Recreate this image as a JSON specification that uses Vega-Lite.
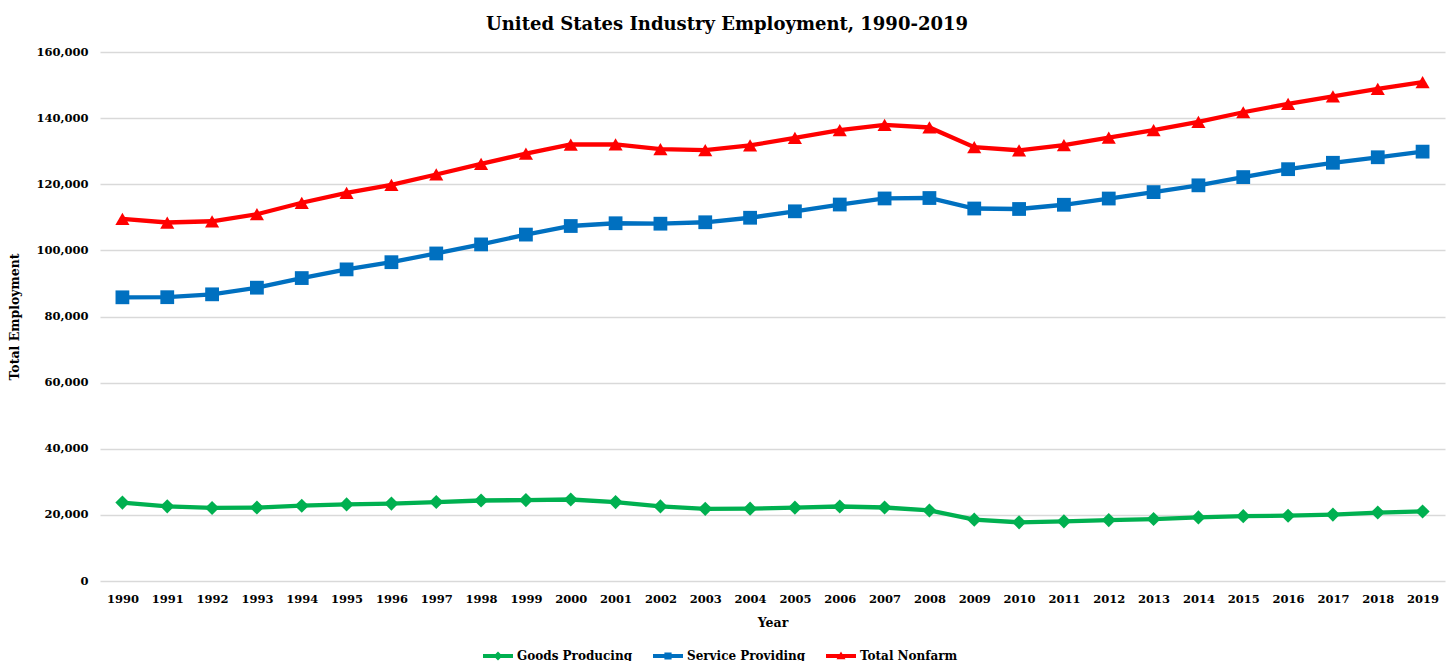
{
  "$schema": "https://vega.github.io/schema/vega-lite/v6.json",
  "autosize": {"type": "none"},
  "width": 1345,
  "height": 529,
  "padding": {"left": 100, "top": 52, "right": 10, "bottom": 80},
  "background": "white",
  "title": {
    "text": "United States Industry Employment, 1990-2019",
    "font": "DejaVu Serif",
    "fontSize": 18,
    "fontWeight": "bold",
    "color": "#000000",
    "frame": "bounds",
    "anchor": "middle",
    "offset": 12
  },
  "config": {
    "view": {"stroke": null},
    "axis": {
      "labelFont": "DejaVu Serif",
      "labelFontWeight": "bold",
      "labelFontSize": 11.5,
      "labelColor": "#000000",
      "titleFont": "DejaVu Serif",
      "titleFontWeight": "bold",
      "titleFontSize": 12.5,
      "titleColor": "#000000",
      "gridColor": "#D9D9D9",
      "gridWidth": 1.3,
      "domain": false,
      "ticks": false
    },
    "legend": {
      "labelFont": "DejaVu Serif",
      "labelFontWeight": "bold",
      "labelFontSize": 12,
      "labelColor": "#000000"
    }
  },
  "data": {
    "values": [
      {"year": "1990", "series": "Total Nonfarm", "value": 109527},
      {"year": "1991", "series": "Total Nonfarm", "value": 108427},
      {"year": "1992", "series": "Total Nonfarm", "value": 108802},
      {"year": "1993", "series": "Total Nonfarm", "value": 110935},
      {"year": "1994", "series": "Total Nonfarm", "value": 114398},
      {"year": "1995", "series": "Total Nonfarm", "value": 117407},
      {"year": "1996", "series": "Total Nonfarm", "value": 119836},
      {"year": "1997", "series": "Total Nonfarm", "value": 122951},
      {"year": "1998", "series": "Total Nonfarm", "value": 126157},
      {"year": "1999", "series": "Total Nonfarm", "value": 129240},
      {"year": "2000", "series": "Total Nonfarm", "value": 132019},
      {"year": "2001", "series": "Total Nonfarm", "value": 132074},
      {"year": "2002", "series": "Total Nonfarm", "value": 130628},
      {"year": "2003", "series": "Total Nonfarm", "value": 130318},
      {"year": "2004", "series": "Total Nonfarm", "value": 131749},
      {"year": "2005", "series": "Total Nonfarm", "value": 134005},
      {"year": "2006", "series": "Total Nonfarm", "value": 136398},
      {"year": "2007", "series": "Total Nonfarm", "value": 137936},
      {"year": "2008", "series": "Total Nonfarm", "value": 137170},
      {"year": "2009", "series": "Total Nonfarm", "value": 131220},
      {"year": "2010", "series": "Total Nonfarm", "value": 130269},
      {"year": "2011", "series": "Total Nonfarm", "value": 131842},
      {"year": "2012", "series": "Total Nonfarm", "value": 134101},
      {"year": "2013", "series": "Total Nonfarm", "value": 136364},
      {"year": "2014", "series": "Total Nonfarm", "value": 138896},
      {"year": "2015", "series": "Total Nonfarm", "value": 141777},
      {"year": "2016", "series": "Total Nonfarm", "value": 144309},
      {"year": "2017", "series": "Total Nonfarm", "value": 146578},
      {"year": "2018", "series": "Total Nonfarm", "value": 148866},
      {"year": "2019", "series": "Total Nonfarm", "value": 150904},
      {"year": "1990", "series": "Goods Producing", "value": 23723},
      {"year": "1991", "series": "Goods Producing", "value": 22588},
      {"year": "1992", "series": "Goods Producing", "value": 22095},
      {"year": "1993", "series": "Goods Producing", "value": 22219},
      {"year": "1994", "series": "Goods Producing", "value": 22774},
      {"year": "1995", "series": "Goods Producing", "value": 23156},
      {"year": "1996", "series": "Goods Producing", "value": 23409},
      {"year": "1997", "series": "Goods Producing", "value": 23886},
      {"year": "1998", "series": "Goods Producing", "value": 24354},
      {"year": "1999", "series": "Goods Producing", "value": 24465},
      {"year": "2000", "series": "Goods Producing", "value": 24649},
      {"year": "2001", "series": "Goods Producing", "value": 23873},
      {"year": "2002", "series": "Goods Producing", "value": 22557},
      {"year": "2003", "series": "Goods Producing", "value": 21816},
      {"year": "2004", "series": "Goods Producing", "value": 21882},
      {"year": "2005", "series": "Goods Producing", "value": 22190},
      {"year": "2006", "series": "Goods Producing", "value": 22530},
      {"year": "2007", "series": "Goods Producing", "value": 22233},
      {"year": "2008", "series": "Goods Producing", "value": 21335},
      {"year": "2009", "series": "Goods Producing", "value": 18558},
      {"year": "2010", "series": "Goods Producing", "value": 17751},
      {"year": "2011", "series": "Goods Producing", "value": 18047},
      {"year": "2012", "series": "Goods Producing", "value": 18420},
      {"year": "2013", "series": "Goods Producing", "value": 18738},
      {"year": "2014", "series": "Goods Producing", "value": 19226},
      {"year": "2015", "series": "Goods Producing", "value": 19610},
      {"year": "2016", "series": "Goods Producing", "value": 19750},
      {"year": "2017", "series": "Goods Producing", "value": 20084},
      {"year": "2018", "series": "Goods Producing", "value": 20704},
      {"year": "2019", "series": "Goods Producing", "value": 21037},
      {"year": "1990", "series": "Service Providing", "value": 85804},
      {"year": "1991", "series": "Service Providing", "value": 85839},
      {"year": "1992", "series": "Service Providing", "value": 86707},
      {"year": "1993", "series": "Service Providing", "value": 88716},
      {"year": "1994", "series": "Service Providing", "value": 91624},
      {"year": "1995", "series": "Service Providing", "value": 94251},
      {"year": "1996", "series": "Service Providing", "value": 96427},
      {"year": "1997", "series": "Service Providing", "value": 99065},
      {"year": "1998", "series": "Service Providing", "value": 101803},
      {"year": "1999", "series": "Service Providing", "value": 104775},
      {"year": "2000", "series": "Service Providing", "value": 107370},
      {"year": "2001", "series": "Service Providing", "value": 108201},
      {"year": "2002", "series": "Service Providing", "value": 108071},
      {"year": "2003", "series": "Service Providing", "value": 108502},
      {"year": "2004", "series": "Service Providing", "value": 109867},
      {"year": "2005", "series": "Service Providing", "value": 111815},
      {"year": "2006", "series": "Service Providing", "value": 113868},
      {"year": "2007", "series": "Service Providing", "value": 115703},
      {"year": "2008", "series": "Service Providing", "value": 115835},
      {"year": "2009", "series": "Service Providing", "value": 112662},
      {"year": "2010", "series": "Service Providing", "value": 112518},
      {"year": "2011", "series": "Service Providing", "value": 113795},
      {"year": "2012", "series": "Service Providing", "value": 115681},
      {"year": "2013", "series": "Service Providing", "value": 117626},
      {"year": "2014", "series": "Service Providing", "value": 119670},
      {"year": "2015", "series": "Service Providing", "value": 122167},
      {"year": "2016", "series": "Service Providing", "value": 124559},
      {"year": "2017", "series": "Service Providing", "value": 126494},
      {"year": "2018", "series": "Service Providing", "value": 128162},
      {"year": "2019", "series": "Service Providing", "value": 129867}
    ]
  },
  "encoding": {
    "x": {
      "field": "year",
      "type": "ordinal",
      "scale": {"type": "point", "padding": 0.5},
      "axis": {"title": "Year", "labelAngle": 0, "labelPadding": 12, "grid": false, "titlePadding": 12}
    },
    "y": {
      "field": "value",
      "type": "quantitative",
      "scale": {"domain": [0, 160000], "nice": false},
      "axis": {"title": "Total Employment", "values": [0, 20000, 40000, 60000, 80000, 100000, 120000, 140000, 160000], "format": ",d", "labelPadding": 12, "titlePadding": 14}
    },
    "color": {
      "field": "series",
      "type": "nominal",
      "scale": {"domain": ["Goods Producing", "Service Providing", "Total Nonfarm"], "range": ["#00B050", "#0070C0", "#FF0000"]},
      "legend": {
        "title": null,
        "orient": "none",
        "direction": "horizontal",
        "legendX": 383,
        "legendY": 589,
        "symbolSize": 900,
        "labelOffset": 4,
        "columnPadding": 20,
        "encode": {
          "symbols": {
            "update": {
              "shape": {"signal": "datum.value === 'Goods Producing' ? 'M-1,-0.13L1,-0.13L1,0.13L-1,0.13Z M0,-0.3L0.3,0L0,0.3L-0.3,0Z' : datum.value === 'Service Providing' ? 'M-1,-0.13L1,-0.13L1,0.13L-1,0.13Z M-0.24,-0.24L0.24,-0.24L0.24,0.24L-0.24,0.24Z' : 'M-1,-0.13L1,-0.13L1,0.13L-1,0.13Z M0,-0.3L0.3,0.22L-0.3,0.22Z'"},
              "fill": {"signal": "scale('color', datum.value)"},
              "strokeWidth": {"value": 0},
              "opacity": {"value": 1}
            }
          }
        }
      }
    }
  },
  "layer": [
    {
      "mark": {"type": "line", "strokeWidth": 4.3},
      "encoding": {}
    },
    {
      "transform": [{"filter": "datum.series === 'Goods Producing'"}],
      "mark": {"type": "point", "filled": true, "opacity": 1, "size": 200, "shape": "diamond"}
    },
    {
      "transform": [{"filter": "datum.series === 'Service Providing'"}],
      "mark": {"type": "point", "filled": true, "opacity": 1, "size": 190, "shape": "square"}
    },
    {
      "transform": [{"filter": "datum.series === 'Total Nonfarm'"}],
      "mark": {"type": "point", "filled": true, "opacity": 1, "size": 200, "shape": "triangle-up"}
    }
  ]
}
